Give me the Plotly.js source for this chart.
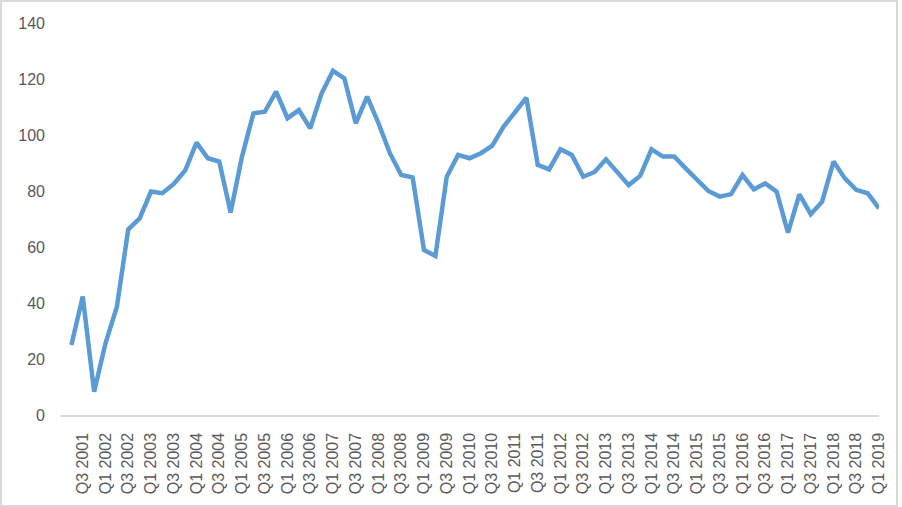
<!DOCTYPE html>
<html>
<head>
<meta charset="utf-8">
<script src="https://cdn.plot.ly/plotly-3.0.1.min.js"></script>
<style>
  html, body { margin: 0; padding: 0; background: #ffffff; }
  #wrap { position: relative; width: 902px; height: 507px; }
  #chart { width: 902px; height: 507px; }
  #frame { position: absolute; left: 0; top: 0; width: 898px; height: 507px;
           box-sizing: border-box; border: 2px solid #d9d9d9; pointer-events: none; }
</style>
</head>
<body>
<div id="wrap">
  <div id="chart"></div>
  <div id="frame"></div>
</div>
<script>
// Quarterly categories, Q2 2001 .. Q1 2019
const quarters = [
  "Q2 2001","Q3 2001","Q4 2001",
  "Q1 2002","Q2 2002","Q3 2002","Q4 2002",
  "Q1 2003","Q2 2003","Q3 2003","Q4 2003",
  "Q1 2004","Q2 2004","Q3 2004","Q4 2004",
  "Q1 2005","Q2 2005","Q3 2005","Q4 2005",
  "Q1 2006","Q2 2006","Q3 2006","Q4 2006",
  "Q1 2007","Q2 2007","Q3 2007","Q4 2007",
  "Q1 2008","Q2 2008","Q3 2008","Q4 2008",
  "Q1 2009","Q2 2009","Q3 2009","Q4 2009",
  "Q1 2010","Q2 2010","Q3 2010","Q4 2010",
  "Q1 2011","Q2 2011","Q3 2011","Q4 2011",
  "Q1 2012","Q2 2012","Q3 2012","Q4 2012",
  "Q1 2013","Q2 2013","Q3 2013","Q4 2013",
  "Q1 2014","Q2 2014","Q3 2014","Q4 2014",
  "Q1 2015","Q2 2015","Q3 2015","Q4 2015",
  "Q1 2016","Q2 2016","Q3 2016","Q4 2016",
  "Q1 2017","Q2 2017","Q3 2017","Q4 2017",
  "Q1 2018","Q2 2018","Q3 2018","Q4 2018",
  "Q1 2019"
];

const values = [
  25.0, 42.3, 8.3,
  25.6, 38.7, 66.3, 70.2,
  79.8, 79.2, 82.5, 87.3,
  97.3, 91.7, 90.5, 72.3,
  92.3, 107.7, 108.3, 115.5,
  106.0, 108.9, 102.4, 114.9,
  122.9, 120.2, 104.2, 113.7,
  104.2, 93.5, 85.7, 84.9,
  58.9, 56.8, 85.1, 92.9,
  91.7, 93.5, 96.2, 103.0,
  108.3, 113.3, 89.3, 87.7,
  94.9, 92.9, 85.1, 86.8,
  91.3, 86.9, 82.1, 85.4,
  94.9, 92.3, 92.3, 88.1,
  83.9, 80.0, 78.0, 78.9,
  85.7, 80.6, 82.7, 79.8,
  65.1, 78.8, 71.7, 76.2,
  90.5, 84.5, 80.4, 79.2,
  73.8
];

// Tick labels shown on the axis (every second quarter)
const tickLabels = quarters.filter((q, i) => i % 2 === 1);

const yTicks = [0, 20, 40, 60, 80, 100, 120, 140];

const fontFam = '"Liberation Sans", Arial, sans-serif';

const trace = {
  type: 'scatter',
  mode: 'lines',
  x: quarters,
  y: values,
  line: { color: '#5b9bd5', width: 4.5, shape: 'linear' },
  hoverinfo: 'x+y'
};

const layout = {
  width: 902,
  height: 507,
  margin: { l: 60, r: 23, t: 23, b: 92 },
  paper_bgcolor: '#ffffff',
  plot_bgcolor: '#ffffff',
  showlegend: false,
  font: { family: fontFam, size: 16, color: '#595959' },
  xaxis: {
    type: 'category',
    range: [-1, quarters.length - 1],
    tickmode: 'array',
    tickvals: tickLabels,
    ticktext: tickLabels,
    tickangle: -90,
    ticks: '',
    showgrid: false,
    zeroline: false,
    showline: true,
    linecolor: '#d9d9d9',
    linewidth: 1.5,
    ticklabelstandoff: 10,
    tickfont: { family: fontFam, size: 16, color: '#595959' },
    fixedrange: true
  },
  yaxis: {
    range: [0, 140],
    tickmode: 'array',
    tickvals: yTicks,
    ticktext: yTicks.map(String),
    ticks: '',
    showgrid: false,
    zeroline: false,
    showline: false,
    ticklabelstandoff: 14,
    tickfont: { family: fontFam, size: 16, color: '#595959' },
    fixedrange: true
  }
};

Plotly.newPlot('chart', [trace], layout, { displayModeBar: false, staticPlot: true });
</script>
</body>
</html>
